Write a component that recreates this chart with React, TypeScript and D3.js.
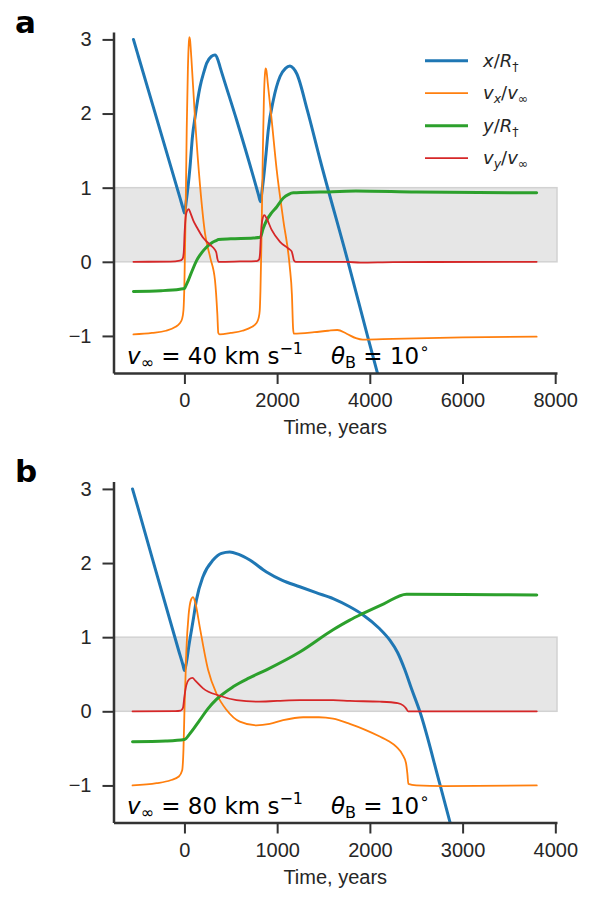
import React, { useEffect, useRef } from 'react'
import * as d3 from 'd3'

type Pt = [number, number]

// v_inf = 40 km/s run (time in years, quantities dimensionless)
const xPosA: Pt[] = [
  [-1100, 3.0], [-1000, 2.787], [-100, 0.873], [-20, 0.70], [0, 0.66], [40, 0.82], [121, 1.28],
  [175, 1.7], [229, 1.95], [337, 2.36], [420, 2.56], [481, 2.68], [580, 2.77], [660, 2.79],
  [720, 2.73], [768, 2.63], [1128, 1.91], [1487, 1.15], [1600, 0.9], [1640, 0.81], [1670, 0.93],
  [1703, 1.10], [1760, 1.45], [1810, 1.78], [1918, 2.18], [2063, 2.50], [2180, 2.61],
  [2278, 2.64], [2350, 2.61], [2422, 2.54], [2650, 2.05], [2930, 1.37], [3530, 0.0],
  [3950, -1.0], [4400, -2.05]
]
const vxA: Pt[] = [
  [-1100, -0.98], [-700, -0.96], [-400, -0.93], [-200, -0.88], [-100, -0.83], [-50, -0.77],
  [-20, -0.65], [0, -0.3], [25, 0.6], [50, 1.8], [75, 2.6], [95, 2.95], [106, 3.03], [120, 3.0],
  [150, 2.75], [229, 1.93], [337, 1.03], [445, 0.38], [560, 0.05], [660, -0.25], [710, -0.7],
  [731, -0.96], [760, -0.98], [1000, -0.96], [1250, -0.93], [1450, -0.88], [1550, -0.83],
  [1600, -0.76], [1625, -0.66], [1640, -0.4], [1660, 0.2], [1690, 1.4], [1715, 2.2],
  [1740, 2.55], [1754, 2.61], [1770, 2.58], [1800, 2.4], [1883, 1.91], [1991, 1.24],
  [2134, 0.56], [2270, -0.05], [2320, -0.45], [2345, -0.9], [2360, -0.97], [2800, -0.95],
  [3100, -0.93], [3300, -0.92], [3500, -0.97], [3700, -1.03], [3850, -1.05], [4500, -1.04],
  [6000, -1.02], [7600, -1.01]
]
const yPosA: Pt[] = [
  [-1100, -0.40], [-500, -0.39], [-100, -0.37], [0, -0.36], [40, -0.31], [84, -0.25],
  [180, -0.1], [265, 0.02], [370, 0.12], [481, 0.20], [600, 0.26], [697, 0.29], [731, 0.30],
  [1000, 0.31], [1487, 0.32], [1635, 0.33], [1700, 0.45], [1775, 0.56], [1880, 0.66],
  [1991, 0.74], [2134, 0.86], [2250, 0.91], [2350, 0.93], [2930, 0.94], [3700, 0.955],
  [5000, 0.94], [7600, 0.93]
]
const vyA: Pt[] = [
  [-1100, 0], [-300, 0.003], [-100, 0.015], [-40, 0.04], [-15, 0.12], [5, 0.4], [30, 0.62],
  [60, 0.69], [95, 0.71], [130, 0.66], [190, 0.56], [265, 0.47], [409, 0.32], [553, 0.23],
  [660, 0.16], [690, 0.12], [712, 0.04], [740, 0.0], [1200, 0.005], [1560, 0.01], [1610, 0.03],
  [1630, 0.1], [1650, 0.35], [1680, 0.56], [1725, 0.63], [1770, 0.59], [1883, 0.43],
  [2063, 0.27], [2243, 0.18], [2314, 0.14], [2340, 0.08], [2362, 0.02], [2400, 0.0],
  [3500, 0.0], [3800, -0.012], [4500, -0.005], [7600, 0.0]
]

// v_inf = 80 km/s run
const xPosB: Pt[] = [
  [-560, 3.0], [-500, 2.74], [-60, 0.81], [-15, 0.62], [0, 0.55], [20, 0.65], [50, 0.9],
  [93, 1.22], [129, 1.5], [201, 1.82], [309, 2.04], [400, 2.13], [489, 2.15], [580, 2.12],
  [705, 2.04], [885, 1.88], [1050, 1.77], [1244, 1.68], [1420, 1.6], [1603, 1.52], [1783, 1.41],
  [1927, 1.3], [2100, 1.12], [2215, 0.96], [2300, 0.79], [2377, 0.56], [2450, 0.3],
  [2538, 0.0], [2754, -0.98], [2950, -1.9]
]
const vxB: Pt[] = [
  [-560, -1.0], [-300, -0.97], [-150, -0.93], [-60, -0.88], [-25, -0.8], [-10, -0.5], [0, 0.0],
  [20, 0.8], [45, 1.3], [70, 1.5], [93, 1.54], [120, 1.45], [165, 1.14], [255, 0.56],
  [345, 0.24], [453, 0.02], [597, -0.14], [777, -0.19], [920, -0.17], [1064, -0.12],
  [1280, -0.08], [1450, -0.08], [1603, -0.1], [1783, -0.17], [1950, -0.25], [2107, -0.34],
  [2200, -0.4], [2287, -0.48], [2350, -0.58], [2390, -0.7], [2405, -0.85], [2415, -0.98],
  [2500, -1.0], [2800, -1.01], [3800, -1.0]
]
const yPosB: Pt[] = [
  [-560, -0.41], [-200, -0.40], [0, -0.38], [60, -0.3], [165, -0.12], [250, 0.03], [345, 0.16],
  [524, 0.33], [700, 0.45], [885, 0.56], [1244, 0.80], [1603, 1.10], [1783, 1.23], [1927, 1.32],
  [2150, 1.45], [2395, 1.58], [3000, 1.575], [3800, 1.57]
]
const vyB: Pt[] = [
  [-560, 0], [-100, 0.003], [-40, 0.01], [-15, 0.05], [0, 0.2], [20, 0.35], [50, 0.43],
  [86, 0.45], [120, 0.41], [201, 0.31], [381, 0.21], [561, 0.15], [777, 0.13], [1000, 0.14],
  [1244, 0.15], [1603, 0.15], [1783, 0.14], [2107, 0.13], [2300, 0.11], [2358, 0.08],
  [2390, 0.04], [2412, 0.0], [3800, 0.0]
]

const ticksA = [0, 2000, 4000, 6000, 8000]
const ticksB = [0, 1000, 2000, 3000, 4000]
const yTicks = [-1, 0, 1, 2, 3]

const COLORS = { x: '#1f77b4', vx: '#ff7f0e', y: '#2ca02c', vy: '#d62728' }
const WIDTHS = { x: 3, vx: 1.8, y: 3, vy: 1.8 }
const ORDER = ['x', 'vx', 'y', 'vy'] as const

const INK = '#262626'
const SANS = 'Liberation Sans, Arial, sans-serif'
const MATH = 'DejaVu Sans, sans-serif'

const W = 600
const H = 900
const LEFT = 113.5
const RIGHT = 557
const PH = 341

type Series = Record<'x' | 'vx' | 'y' | 'vy', Pt[]>

const Panel = ({ top, letter, xDomain, xTicks, series, speed, legend }: {
  top: number, letter: string, xDomain: [number, number], xTicks: number[],
  series: Series, speed: number, legend: boolean
}) => {
  const xRef = useRef<SVGGElement>(null)
  const yRef = useRef<SVGGElement>(null)
  const x = d3.scaleLinear().domain(xDomain).range([LEFT, RIGHT])
  const y = d3.scaleLinear().domain([-1.5, 3.1]).range([top + PH, top])
  const line = d3.line<Pt>().x(d => x(d[0])).y(d => y(d[1])).curve(d3.curveMonotoneX)
  const clipId = 'clip-' + letter

  useEffect(() => {
    const style = (g: d3.Selection<SVGGElement, unknown, null, undefined>) => {
      g.select('.domain').attr('stroke', '#333').attr('stroke-width', 2.5)
      g.selectAll('.tick line').attr('stroke', '#333').attr('stroke-width', 2)
      g.selectAll('.tick text').attr('fill', INK).attr('font-size', 20).attr('font-family', SANS)
      g.attr('font-family', null).attr('font-size', null)
    }
    d3.select(xRef.current!)
      .call(d3.axisBottom(x).tickValues(xTicks).tickFormat(d3.format('d')).tickSize(11).tickPadding(9).tickSizeOuter(0))
      .call(style)
    d3.select(yRef.current!)
      .call(d3.axisLeft(y).tickValues(yTicks).tickFormat(d3.format('d')).tickSize(11).tickPadding(11).tickSizeOuter(0))
      .call(style)
  })

  const fs = 23
  const sub = 16
  return (
    <g>
      <defs>
        <clipPath id={clipId}>
          <rect x={LEFT} y={top} width={RIGHT - LEFT} height={PH} />
        </clipPath>
      </defs>
      <text x={15} y={top + 0.5} fontFamily={MATH} fontWeight="bold" fontSize={31} fill="#000">{letter}</text>
      <rect x={LEFT} y={y(1)} width={RIGHT - LEFT} height={y(0) - y(1)}
        fill="#e6e6e6" stroke="#d2d2d2" strokeWidth={1.5} />
      <g clipPath={`url(#${clipId})`}>
        {ORDER.map(k => (
          <path key={k} d={line(series[k]) || ''} fill="none" stroke={COLORS[k]}
            strokeWidth={WIDTHS[k]} strokeLinejoin="round" strokeLinecap="round" />
        ))}
      </g>
      <g ref={xRef} transform={`translate(0,${top + PH})`} />
      <g ref={yRef} transform={`translate(${LEFT},0)`} />
      <text x={(LEFT + RIGHT) / 2} y={top + PH + 61} textAnchor="middle" fontFamily={SANS}
        fontSize={20} fill={INK}>Time, years</text>
      <text x={127} y={top + 332} fontFamily={MATH} fontSize={fs} fill="#000">
        <tspan fontStyle="italic">v</tspan>
        <tspan fontSize={sub} dy={4}>∞</tspan>
        <tspan dy={-4}>{` = ${speed} km s`}</tspan>
        <tspan fontSize={sub} dy={-10}>−1</tspan>
      </text>
      <text x={331} y={top + 332} fontFamily={MATH} fontSize={fs} fill="#000">
        <tspan fontStyle="italic">θ</tspan>
        <tspan fontSize={sub} dy={4}>B</tspan>
        <tspan dy={-4}> = 10</tspan>
        <tspan fontSize={sub} dy={-10}>∘</tspan>
      </text>
      {legend && <Legend top={top} />}
    </g>
  )
}

const Legend = ({ top }: { top: number }) => {
  const fs = 18
  const sb = 12.6
  const labels = {
    x: <><tspan fontStyle="italic">x</tspan>/<tspan fontStyle="italic">R</tspan><tspan fontSize={sb} dy={4}>†</tspan></>,
    vx: <><tspan fontStyle="italic">v</tspan><tspan fontStyle="italic" fontSize={sb} dy={4}>x</tspan><tspan dy={-4}>/</tspan><tspan fontStyle="italic">v</tspan><tspan fontSize={sb} dy={4}>∞</tspan></>,
    y: <><tspan fontStyle="italic">y</tspan>/<tspan fontStyle="italic">R</tspan><tspan fontSize={sb} dy={4}>†</tspan></>,
    vy: <><tspan fontStyle="italic">v</tspan><tspan fontStyle="italic" fontSize={sb} dy={4}>y</tspan><tspan dy={-4}>/</tspan><tspan fontStyle="italic">v</tspan><tspan fontSize={sb} dy={4}>∞</tspan></>
  }
  return (
    <g>
      {ORDER.map((k, i) => {
        const cy = top + 28.7 + i * 32.5
        return (
          <g key={k}>
            <line x1={425} x2={468} y1={cy} y2={cy} stroke={COLORS[k]} strokeWidth={WIDTHS[k]} />
            <text x={483} y={cy + 6} fontFamily={MATH} fontSize={fs} fill={INK}>{labels[k]}</text>
          </g>
        )
      })}
    </g>
  )
}

export default function App () {
  return (
    <svg width={W} height={H} viewBox={`0 0 ${W} ${H}`}
      style={{ position: 'absolute', left: 0, top: 0, background: '#fff' }}>
      <rect width={W} height={H} fill="#fff" />
      <Panel top={32} letter="a" xDomain={[-1530, 8039]} xTicks={ticksA}
        series={{ x: xPosA, vx: vxA, y: yPosA, vy: vyA }} speed={40} legend />
      <Panel top={481.5} letter="b" xDomain={[-765, 4018]} xTicks={ticksB}
        series={{ x: xPosB, vx: vxB, y: yPosB, vy: vyB }} speed={80} legend={false} />
    </svg>
  )
}
